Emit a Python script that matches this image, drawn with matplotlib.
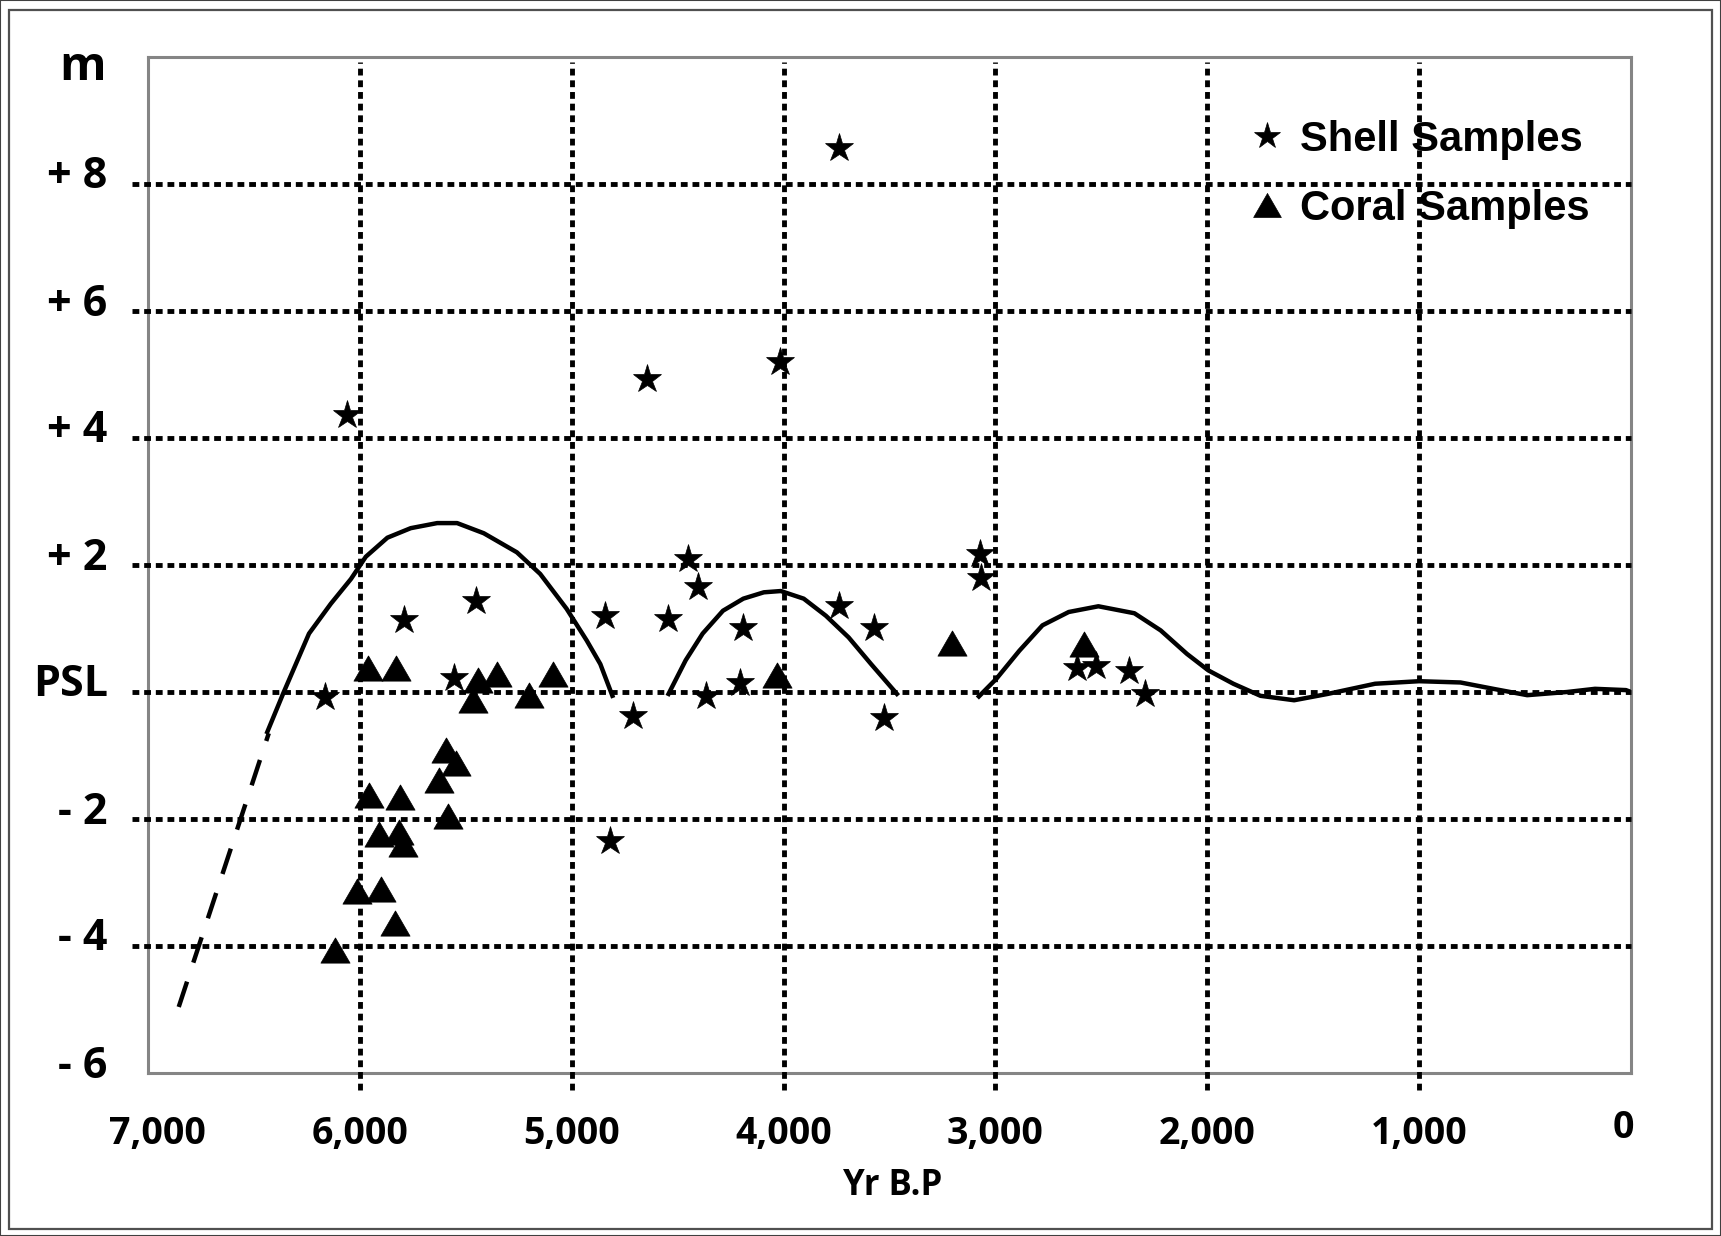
import matplotlib
matplotlib.use("Agg")
import matplotlib.pyplot as plt
from matplotlib.transforms import ScaledTranslation
from matplotlib.patches import Rectangle

# --- data (yr B.P, metres rel. to PSL) ---
shell_yr = [3740, 4646, 4016, 6063, 4449, 4406, 3072, 3066, 5791, 5454,
            4845, 4546, 4193, 3738, 3571, 6166, 5554, 4710, 4366, 4205,
            3528, 4821, 2615, 2523, 2369, 2292]
shell_m = [8.57, 4.93, 5.19, 4.36, 2.09, 1.66, 2.18, 1.79, 1.13, 1.44,
           1.19, 1.15, 1.01, 1.35, 1.01, -0.08, 0.22, -0.38, -0.06, 0.14,
           -0.41, -2.34, 0.38, 0.41, 0.33, -0.03]

coral_yr = [5960, 5831, 5443, 5353, 5087, 5201, 5464, 5593, 5546, 5628,
            5585, 5957, 5812, 5910, 5815, 5797, 6013, 5902, 5834, 6119,
            4029, 3205, 2580]
coral_m = [0.38, 0.38, 0.19, 0.28, 0.28, -0.05, -0.13, -0.92, -1.12, -1.39,
           -1.95, -1.62, -1.65, -2.24, -2.21, -2.39, -3.14, -3.11, -3.63, -4.06,
           0.26, 0.77, 0.76]

# sea level curve, in pieces
dash_yr = [6855, 6430]
dash_m = [-4.96, -0.65]

curve_a_yr = [6437, 6359, 6240, 6137, 6042, 5972, 5870, 5760, 5635, 5541,
              5415, 5259, 5149, 5024, 4929, 4865, 4808]
curve_a_m = [-0.63, 0.0, 0.92, 1.39, 1.78, 2.13, 2.43, 2.58, 2.66, 2.66,
             2.50, 2.20, 1.86, 1.31, 0.81, 0.44, -0.06]

curve_b_yr = [4543, 4462, 4382, 4286, 4190, 4093, 4013, 3905, 3800, 3693, 3587, 3465]
curve_b_m = [-0.03, 0.50, 0.92, 1.28, 1.47, 1.57, 1.59, 1.47, 1.20, 0.86, 0.44, -0.03]

curve_c_yr = [3078, 2995, 2887, 2778, 2654, 2514, 2344, 2220, 2096, 1995,
              1877, 1749, 1590, 1431, 1208, 1000, 805, 650, 490, 302, 170, 24, 0]
curve_c_m = [-0.07, 0.21, 0.65, 1.05, 1.26, 1.35, 1.24, 0.97, 0.60, 0.34,
             0.13, -0.06, -0.13, -0.03, 0.13, 0.17, 0.15, 0.05, -0.05, 0.0, 0.05, 0.03, 0.0]

x_ticks = [7000, 6000, 5000, 4000, 3000, 2000, 1000, 0]
x_labels = ["7,000", "6,000", "5,000", "4,000", "3,000", "2,000", "1,000", "0"]
y_ticks = [-6, -4, -2, 0, 2, 4, 6, 8]
y_labels = ["- 6", "- 4", "- 2", "PSL", "+ 2", "+ 4", "+ 6", "+ 8"]
grid_y = [-4, -2, 0, 2, 4, 6, 8]
grid_x = [6000, 5000, 4000, 3000, 2000, 1000]

plt.rcParams["font.family"] = ["Open Sans", "DejaVu Sans"]
plt.rcParams["font.weight"] = "bold"

W, H = 1721, 1236
fig = plt.figure(figsize=(W / 100, H / 100), dpi=100)
ax = fig.add_axes([148 / W, 1 - 1073 / H, (1631 - 148) / W, (1073 - 57) / H])

ax.set_xlim(7000, 0)
ax.set_ylim(-6, 10)

# dotted grid, running a little past the frame on the left and bottom
dots = (0, (1.4, 1.0))
for v in grid_y:
    ax.axhline(v, xmin=-0.011, xmax=1, color="black", lw=3.5, ls=dots,
               clip_on=False, zorder=1)
for v in grid_x:
    ax.axvline(v, ymin=-0.017, ymax=0.995, color="black", lw=3.5, ls=dots,
               clip_on=False, zorder=1)

# curve
ax.plot(dash_yr, dash_m, color="black", lw=3.2, ls=(0, (6, 4.5)), zorder=2)
for xs, ys in [(curve_a_yr, curve_a_m), (curve_b_yr, curve_b_m), (curve_c_yr, curve_c_m)]:
    ax.plot(xs, ys, color="black", lw=3.2, solid_joinstyle="round", zorder=2)

tri = [(0, 0.866), (-1, -0.866), (1, -0.866), (0, 0.866)]
h_shell, = ax.plot(shell_yr, shell_m, ls="none", marker="*", ms=21, color="black",
                   mew=0.5, zorder=3, label="Shell Samples")
h_coral, = ax.plot(coral_yr, coral_m, ls="none", marker=tri, ms=21, color="black",
                   mew=0.5, zorder=3, label="Coral Samples")

for s in ax.spines.values():
    s.set_color("#858585")
    s.set_linewidth(2.2)
    s.set_zorder(0.5)

ax.set_xticks(x_ticks, x_labels)
ax.set_yticks(y_ticks, y_labels)
ax.tick_params(axis="x", length=0, pad=30, labelsize=27)
ax.tick_params(axis="y", length=0, pad=29, labelsize=31)

for lbl in ax.get_yticklabels():
    lbl.set_transform(lbl.get_transform() + ScaledTranslation(0, 0.12, fig.dpi_scale_trans))
xl = ax.get_xticklabels()
xl[0].set_transform(xl[0].get_transform() + ScaledTranslation(0.09, 0, fig.dpi_scale_trans))
xl[-1].set_transform(xl[-1].get_transform() + ScaledTranslation(-0.08, 0.06, fig.dpi_scale_trans))

ax.text(-0.0445, 0.99, "m", transform=ax.transAxes, ha="center", va="center", fontsize=34)

ax.set_xlabel("Yr B.P", fontsize=25, fontweight="bold", va="center")
ax.xaxis.set_label_coords(0.5024, -0.111)

ax.legend(handles=[h_shell, h_coral], loc="upper left",
          bbox_to_anchor=(1229 / W, 1 - 99 / H), bbox_transform=fig.transFigure,
          frameon=False, borderpad=0, handlelength=0.8, handletextpad=0.4,
          labelspacing=0.69, markerscale=0.95,
          prop={"family": ["Liberation Sans", "DejaVu Sans"], "weight": "bold", "size": 30})

# figure border
fig.patches.append(Rectangle((9 / W, 1 - 1229 / H), (1712 - 9) / W, (1229 - 10) / H,
                             transform=fig.transFigure, fill=False, ec="#505050", lw=1.6))
fig.patches.append(Rectangle((0, 0), 1, 1, transform=fig.transFigure, fill=False,
                             ec="#404040", lw=1.5))

fig.savefig("out.png", dpi=100)
